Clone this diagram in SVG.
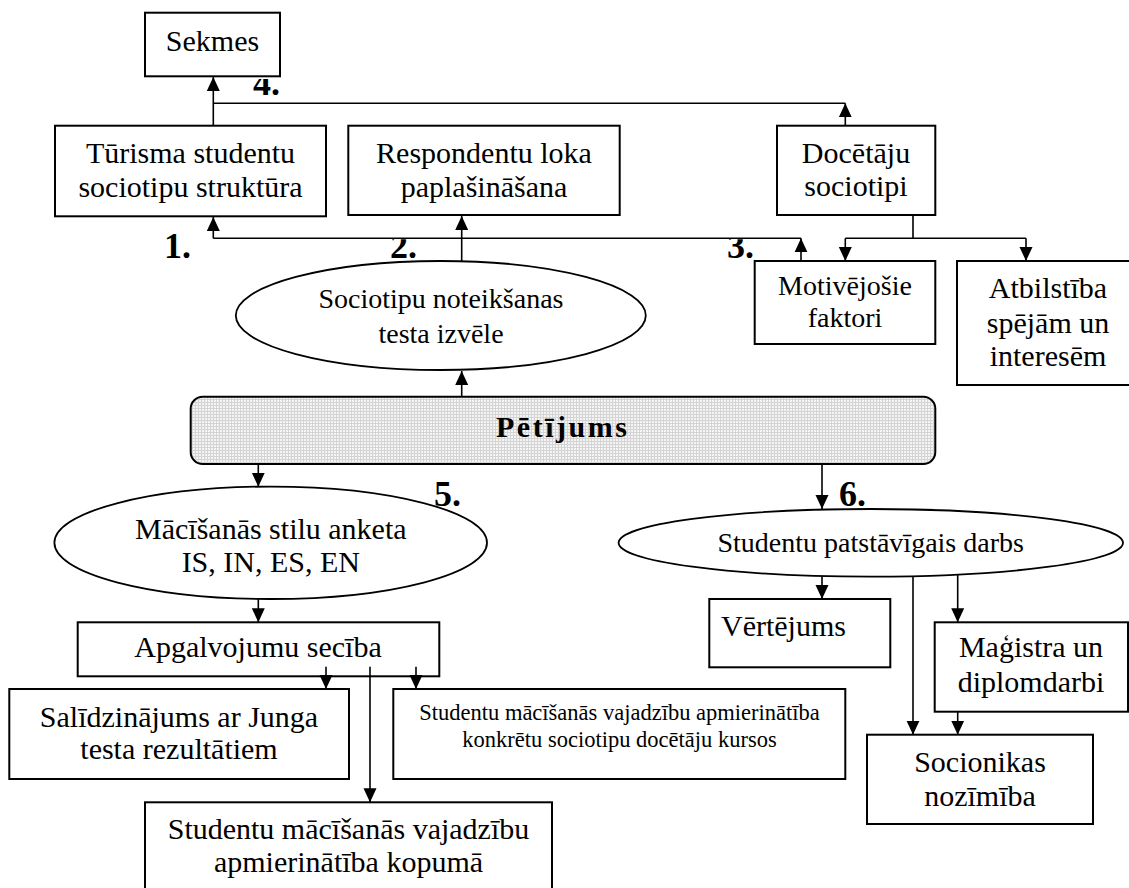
<svg xmlns="http://www.w3.org/2000/svg" width="1129" height="888" viewBox="0 0 1129 888">
<style>
.box{fill:#fff;stroke:#000;stroke-width:2}
.ell{fill:#fff;stroke:#000;stroke-width:1.8}
.t{font-family:"Liberation Serif","Times New Roman",serif;font-size:30px;fill:#000;text-anchor:middle}
.m{font-size:28px}
.s{font-size:22.5px}
.num{font-family:"Liberation Serif","Times New Roman",serif;font-size:36px;font-weight:bold;fill:#000}
.c{fill:none;stroke:#000;stroke-width:1.6}
.a{marker-end:url(#ah)}
</style>
<defs>
<marker id="ah" markerUnits="userSpaceOnUse" markerWidth="14" markerHeight="14" refX="14" refY="7" orient="auto">
<path d="M0,0.5 L14,7 L0,13.5 z" fill="#000"/>
</marker>
<pattern id="dots" width="3" height="3" patternUnits="userSpaceOnUse">
<rect width="3" height="3" fill="#f4f4f4"/>
<path d="M0,0.5 H3 M0.5,0 V3" stroke="#d4d4d4" stroke-width="1"/>
</pattern>
<clipPath id="c4"><rect x="240" y="79" width="60" height="30"/></clipPath>
<clipPath id="c23"><rect x="380" y="239.2" width="400" height="30"/></clipPath>
</defs>

<g id="connectors">
<path class="c a" d="M213.3,125.7 V77"/>
<path class="c" d="M213.3,103.3 H845.3"/>
<path class="c a" d="M845.3,125.7 V103.3"/>
<path class="c" d="M213.3,238.3 H801"/>
<path class="c a" d="M213.3,238.3 V217"/>
<path class="c a" d="M801,261 V238.3"/>
<path class="c a" d="M461.7,261.3 V216"/>
<path class="c a" d="M461.7,396.7 V371"/>
<path class="c" d="M913,215 V238.3 M845.3,238.3 H1026"/>
<path class="c a" d="M845.3,238.3 V261"/>
<path class="c a" d="M1026,238.3 V261"/>
<path class="c a" d="M258.3,464 V486.7"/>
<path class="c a" d="M822,464 V509"/>
<path class="c a" d="M258.3,599 V622.3"/>
<path class="c a" d="M822,576 V599"/>
<path class="c a" d="M913,576 V734.7"/>
<path class="c a" d="M957.7,575 V622.3"/>
<path class="c a" d="M957.7,711.7 V734.7"/>
</g>

<g id="sekmes"><rect class="box" x="145" y="12.7" width="135" height="63.6"/><text class="t" x="212.5" y="51">Sekmes</text></g>
<g id="turisma"><rect class="box" x="55" y="125.7" width="271" height="90.6"/><text class="t" x="190.5" y="163.3">Tūrisma studentu</text><text class="t" x="190.5" y="197.3">sociotipu struktūra</text></g>
<g id="respondentu"><rect class="box" x="348.3" y="125.7" width="271.4" height="89.3"/><text class="t" x="484" y="163.3">Respondentu loka</text><text class="t" x="484" y="196.5">paplašināšana</text></g>
<g id="docetaju"><rect class="box" x="777" y="125.7" width="158.3" height="89.3"/><text class="t" x="856" y="163.3">Docētāju</text><text class="t" x="856" y="196">sociotipi</text></g>
<g id="sociotipu"><ellipse class="ell" cx="440.8" cy="315.5" rx="205" ry="54.5"/><text class="t m" x="441" y="308.3">Sociotipu noteikšanas</text><text class="t m" x="441" y="342.7">testa izvēle</text></g>
<g id="motivejosie"><rect class="box" x="754.7" y="261" width="180.6" height="83"/><text class="t m" x="845" y="295">Motivējošie</text><text class="t m" x="845" y="327">faktori</text></g>
<g id="atbilstiba"><rect class="box" x="957" y="261" width="185" height="124"/><text class="t" x="1048" y="297.7">Atbilstība</text><text class="t" x="1048" y="332.7">spējām un</text><text class="t" x="1048" y="366">interesēm</text></g>
<g id="petijums"><rect x="190.7" y="396.7" width="744.6" height="67.3" rx="12" ry="12" fill="url(#dots)" stroke="#000" stroke-width="2"/><text class="t" x="496" y="437" style="text-anchor:start;font-weight:bold;letter-spacing:2.5px">Pētījums</text></g>
<g id="macisanas"><ellipse class="ell" cx="270.7" cy="542.8" rx="216.3" ry="56.2"/><text class="t" x="270.8" y="539">Mācīšanās stilu anketa</text><text class="t" x="270.8" y="572.3">IS, IN, ES, EN</text></g>
<g id="patstavigais"><ellipse class="ell" cx="870.8" cy="542.8" rx="252.2" ry="33.8"/><text class="t m" x="870.7" y="552.3">Studentu patstāvīgais darbs</text></g>
<g id="apgalvojumu"><rect class="box" x="77.7" y="622.3" width="361.6" height="54"/><text class="t" x="258" y="657.3">Apgalvojumu secība</text></g>
<g id="vertejums"><rect class="box" x="709.3" y="599" width="181" height="68.3"/><text class="t" x="721" y="636.3" style="text-anchor:start">Vērtējums</text></g>
<g id="magistra"><rect class="box" x="934.7" y="622.3" width="193.3" height="89.4"/><text class="t" x="1031" y="657.3">Maģistra un</text><text class="t" x="1031" y="692.3">diplomdarbi</text></g>
<g id="salidzinajums"><rect class="box" x="9.3" y="689" width="339.7" height="90"/><text class="t" x="179" y="727.3">Salīdzinājums ar Junga</text><text class="t" x="179" y="759">testa rezultātiem</text></g>
<g id="kursos"><rect class="box" x="393.3" y="689" width="452" height="90"/><text class="t s" x="619.5" y="720">Studentu mācīšanās vajadzību apmierinātība</text><text class="t s" x="619.5" y="746.7">konkrētu sociotipu docētāju kursos</text></g>
<g id="socionikas"><rect class="box" x="867" y="734.7" width="226" height="89.3"/><text class="t" x="980" y="772.3">Socionikas</text><text class="t" x="980" y="805.7">nozīmība</text></g>
<g id="kopuma"><rect class="box" x="145" y="802.3" width="407" height="100"/><text class="t" x="348.5" y="839">Studentu mācīšanās vajadzību</text><text class="t" x="348.5" y="872.3">apmierinātība kopumā</text></g>

<g id="apg-connectors">
<path class="c a" d="M326,666.7 V689"/>
<path class="c a" d="M416,666.7 V689"/>
<path class="c a" d="M370,666.7 V802.3"/>
</g>

<g id="numbers">
<text class="num" x="164" y="258">1.</text>
<text class="num" x="390" y="258" clip-path="url(#c23)">2.</text>
<text class="num" x="727" y="258" clip-path="url(#c23)">3.</text>
<text class="num" x="253" y="95" clip-path="url(#c4)">4.</text>
<text class="num" x="434" y="506">5.</text>
<text class="num" x="839" y="506">6.</text>
</g>
</svg>
